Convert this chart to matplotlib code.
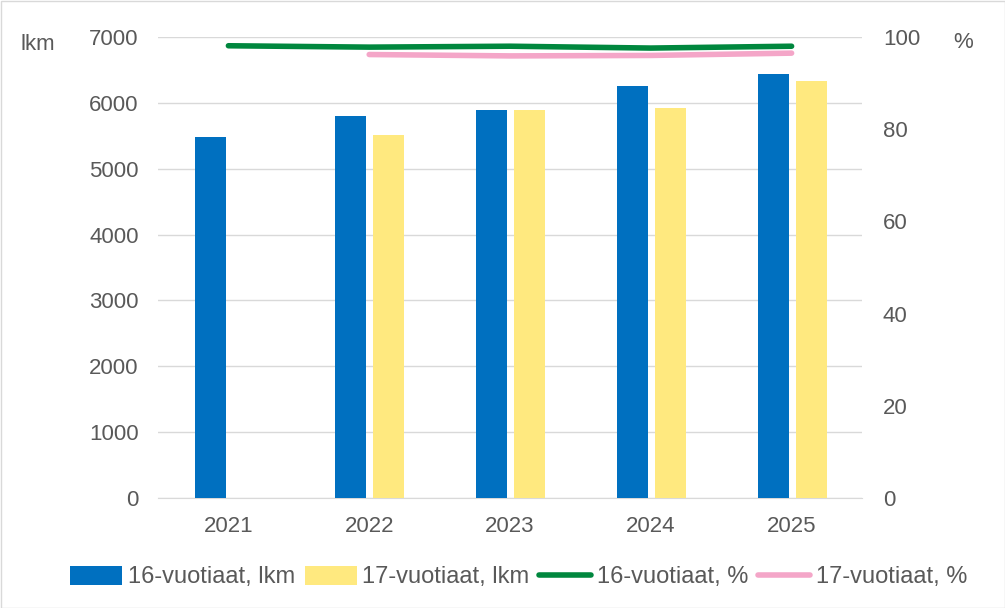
import matplotlib
matplotlib.use("Agg")
import matplotlib.pyplot as plt
import numpy as np

plt.rcParams['font.family'] = ['Liberation Sans', 'DejaVu Sans']

years = ['2021', '2022', '2023', '2024', '2025']
lkm16 = [5480, 5800, 5895, 6260, 6435]
lkm17 = [np.nan, 5515, 5890, 5920, 6330]
pct16 = [98.1, 97.8, 98.0, 97.6, 98.0]
pct17 = [np.nan, 96.2, 95.9, 96.0, 96.5]

blue = '#0070C0'
yellow = '#FFE97F'
green = '#00873E'
pink = '#F4A6C8'
txt = '#595959'
grid = '#D9D9D9'

fig = plt.figure(figsize=(10.05, 6.08), dpi=100)
ax = fig.add_axes([158/1005, 1-498/608, (862-158)/1005, (498-37)/608])
ax2 = ax.twinx()

x = np.arange(len(years))
w = 0.22
b1 = ax.bar(x - 0.13, lkm16, w, color=blue, label='16-vuotiaat, lkm', zorder=3)
b2 = ax.bar(x + 0.14, lkm17, w, color=yellow, label='17-vuotiaat, lkm', zorder=3)
l1, = ax2.plot(x, pct16, color=green, lw=4, solid_capstyle='round', label='16-vuotiaat, %')
l2, = ax2.plot(x, pct17, color=pink, lw=4, solid_capstyle='round', label='17-vuotiaat, %')

ax.set_xlim(-0.5, 4.5)
ax.set_ylim(0, 7000)
ax.set_yticks(range(0, 7001, 1000))
ax2.set_ylim(0, 100)
ax2.set_yticks(range(0, 101, 20))
ax.set_xticks(x)
ax.set_xticklabels(years)
ax.yaxis.grid(True, color=grid, lw=1, zorder=0)
ax.set_axisbelow(True)

fs = 16
for a in (ax, ax2):
    for s in a.spines.values():
        s.set_visible(False)
    a.tick_params(length=0, labelsize=fs, colors=txt)
ax.spines['bottom'].set_visible(True)
ax.spines['bottom'].set_color(grid)
ax.tick_params(axis='y', pad=14)
ax.tick_params(axis='x', pad=13)
ax2.tick_params(axis='y', pad=15)

fig.text(20/1005, 1-45/608, 'lkm', fontsize=fs, color=txt, va='center', ha='left')
fig.text(963/1005, 1-42/608, '%', fontsize=fs, color=txt, va='center', ha='center')

fig.legend([b1, b2, l1, l2], ['16-vuotiaat, lkm', '17-vuotiaat, lkm', '16-vuotiaat, %', '17-vuotiaat, %'],
           loc='center', bbox_to_anchor=(0.516, 1-577/608), ncol=4, frameon=False,
           fontsize=17, labelcolor=txt, handlelength=2.2, handleheight=0.9,
           handletextpad=0.25, columnspacing=0.4)

fig.patches.append(plt.Rectangle((0.5/1005, 0.5/608), 1-1/1005, 1-1/608, transform=fig.transFigure,
                                 fill=False, edgecolor=grid, lw=1))

fig.savefig('out.png', dpi=100)
